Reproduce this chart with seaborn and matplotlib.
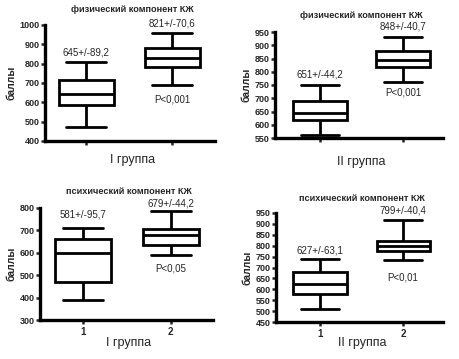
import numpy as np
import pandas as pd
import seaborn as sns
import matplotlib.pyplot as plt

sns.set_style("white")
plt.rcParams['font.family'] = ['Liberation Sans', 'DejaVu Sans']

# five-number summaries (min, q1, median, q3, max)
phys_1 = [[470, 585, 645, 715, 810], [690, 785, 828, 882, 960]]
phys_2 = [[560, 618, 643, 690, 750], [760, 818, 845, 880, 930]]
psych_1 = [[390, 470, 600, 660, 710], [590, 635, 680, 705, 785]]
psych_2 = [[510, 580, 625, 678, 740], [735, 775, 800, 822, 918]]

mean_sd_phys_1 = ["645+/-89,2", "821+/-70,6"]
mean_sd_phys_2 = ["651+/-44,2", "848+/-40,7"]
mean_sd_psych_1 = ["581+/-95,7", "679+/-44,2"]
mean_sd_psych_2 = ["627+/-63,1", "799+/-40,4"]

p_phys_1 = "P<0,001"
p_phys_2 = "P<0,001"
p_psych_1 = "P<0,05"
p_psych_2 = "P<0,01"

title_phys = "физический компонент КЖ"
title_psych = "психический компонент КЖ"
group_labels = ["I группа", "II группа"]
x_ticklabels = ["1", "2"]

W, H = 460, 359
fig = plt.figure(figsize=(W / 100, H / 100), dpi=100)


def panel(box_px, ylim, ystep, summary, mean_sd, label_y, p_text, p_y,
          title, title_y, xlabel, xlabel_y, xlim, show_xt):
    left, top, right, bottom = box_px
    ax = fig.add_axes([left / W, 1 - bottom / H, (right - left) / W, (bottom - top) / H])
    df = pd.DataFrame({
        "grp": np.repeat(["1", "2"], 5),
        "val": summary[0] + summary[1],
    })
    sns.boxplot(data=df, x="grp", y="val", ax=ax, whis=(0, 100), width=0.64,
                color="white", linecolor="black", linewidth=2.0,
                capwidths=0.46, showfliers=False)
    ax.set_ylim(*ylim)
    ax.set_xlim(*xlim)
    ax.set_yticks(np.arange(ylim[0], ylim[1] + 1, ystep))
    for lbl in ax.get_yticklabels():
        lbl.set_fontweight("bold")
        lbl.set_fontsize(6.5)
    ax.tick_params(axis="y", direction="out", length=3, width=1.8, pad=1,
                   left=True)
    ax.tick_params(axis="x", direction="out", length=3, width=1.8, pad=2,
                   bottom=True)
    ax.set_xticks([0, 1])
    if show_xt:
        ax.set_xticklabels(x_ticklabels, fontsize=7, fontweight="bold")
    else:
        ax.set_xticklabels([])
    ax.set_xlabel("")
    ax.set_ylabel("баллы", fontsize=7.5, fontweight="bold", labelpad=2)
    for s in ["top", "right"]:
        ax.spines[s].set_visible(False)
    for s in ["left", "bottom"]:
        ax.spines[s].set_linewidth(2.4)
        ax.spines[s].set_color("black")
    for i, t in enumerate(mean_sd):
        ax.text(i, label_y[i], t, ha="center", va="center", fontsize=7)
    ax.text(1, p_y, p_text, ha="center", va="center", fontsize=7)
    cx = (left + right) / 2 / W + 0.005
    fig.text(cx, 1 - title_y / H, title, ha="center", va="center",
             fontsize=6.6, fontweight="bold")
    fig.text(cx, 1 - xlabel_y / H, xlabel, ha="center", va="center", fontsize=9)
    return ax


panel((45, 25, 215, 141), (400, 1000), 100, phys_1, mean_sd_phys_1, [860, 1010],
      p_phys_1, 617, title_phys, 10, group_labels[0], 160, (-0.48, 1.5), False)
panel((275, 32, 443, 138), (550, 950), 50, phys_2, mean_sd_phys_2, [788, 969],
      p_phys_2, 723, title_phys, 15, group_labels[1], 162, (-0.54, 1.48), False)
panel((40, 208, 213, 320), (300, 800), 100, psych_1, mean_sd_psych_1, [769, 818],
      p_psych_1, 528, title_psych, 192, group_labels[0], 343, (-0.49, 1.48), True)
panel((276, 213, 443, 322), (450, 950), 50, psych_2, mean_sd_psych_2, [776, 960],
      p_psych_2, 656, title_psych, 199, group_labels[1], 343, (-0.53, 1.48), True)

fig.savefig("out.png", dpi=100)
